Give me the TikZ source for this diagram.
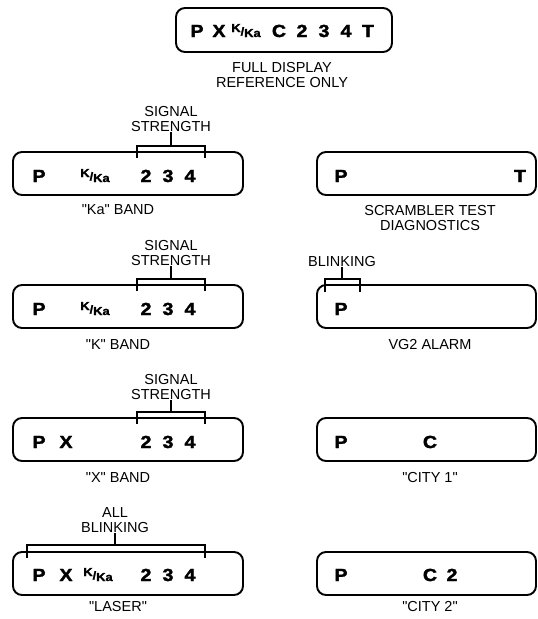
\documentclass[tikz,border=0pt]{standalone}
\usepackage{fontspec}
\setmainfont{Liberation Sans}[Ligatures=TeXOff]
\newfontfamily\disp{Liberation Sans}[FakeStretch=1.12,FakeBold=2]
\newcommand\kka{{\fontsize{11.5}{11.5}\selectfont\raisebox{5pt}{K}\raisebox{1.5pt}{/}Ka}}
\newcommand\qq{\symbol{34}}
\begin{document}
\begin{tikzpicture}[x=1pt,y=-1pt,
  dbox/.style={draw,line width=1.9pt,rounded corners=9pt},
  dch/.style={font=\disp\bfseries\fontsize{17.5}{17.5}\selectfont,inner sep=0pt,anchor=base},
  lbl/.style={font=\fontsize{14.5}{15.5}\selectfont,align=center,inner sep=0pt},
  brk/.style={line width=1.4pt}]
\useasboundingbox (0,0) rectangle (538,619);
% ---------- top box
\draw[dbox] (176,8) rectangle (392,52);
\node[dch] (t1) at (197,37) {P};
\node[dch] (t2) at (219,37) {X};
\node[dch] (t3) at (246,37) {\kka};
\node[dch] (t4) at (279,37) {C};
\node[dch] (t5) at (302,37) {2};
\node[dch] (t6) at (324,37) {3};
\node[dch] (t7) at (346,37) {4};
\node[dch] (t8) at (368,37) {T};
\node[lbl] (tl) at (282,75) {FULL DISPLAY\\REFERENCE ONLY};
% ---------- left column
\foreach \top in {152,285,418,552}{
  \draw[dbox] (13,\top) rectangle (243,\top+43);
}
% row 1
\node[dch] (a1) at (39,182) {P};
\node[dch] (a2) at (95,182) {\kka};
\node[dch] (a3) at (146,182) {2};
\node[dch] (a4) at (168,182) {3};
\node[dch] (a5) at (190,182) {4};
\node[lbl] (al) at (118,210) {\qq Ka\qq{} BAND};
\node[lbl] (as) at (171,119) {SIGNAL\\STRENGTH};
\coordinate (b1l) at (137,158); \coordinate (b1r) at (205,158);
\draw[brk] (b1l) -- ++(0,-12) -| (b1r);
\draw[brk] (171,146) -- (as.south);
% row 2
\node[dch] (k1) at (39,315) {P};
\node[dch] (k2) at (95,315) {\kka};
\node[dch] (k3) at (146,315) {2};
\node[dch] (k4) at (168,315) {3};
\node[dch] (k5) at (190,315) {4};
\node[lbl] (kl) at (118,345) {\qq K\qq{} BAND};
\node[lbl] (ks) at (171,253) {SIGNAL\\STRENGTH};
\coordinate (b2l) at (137,291); \coordinate (b2r) at (205,291);
\draw[brk] (b2l) -- ++(0,-12) -| (b2r);
\draw[brk] (171,279) -- (ks.south);
% row 3
\node[dch] (x1) at (39,448) {P};
\node[dch] (x2) at (66,448) {X};
\node[dch] (x3) at (146,448) {2};
\node[dch] (x4) at (168,448) {3};
\node[dch] (x5) at (190,448) {4};
\node[lbl] (xl) at (118,478) {\qq X\qq{} BAND};
\node[lbl] (xs) at (171,387) {SIGNAL\\STRENGTH};
\coordinate (b3l) at (137,424); \coordinate (b3r) at (205,424);
\draw[brk] (b3l) -- ++(0,-12) -| (b3r);
\draw[brk] (171,412) -- (xs.south);
% row 4
\node[dch] (l1) at (39,581) {P};
\node[dch] (l2) at (66,581) {X};
\node[dch] (l3) at (98,581) {\kka};
\node[dch] (l4) at (146,581) {2};
\node[dch] (l5) at (168,581) {3};
\node[dch] (l6) at (190,581) {4};
\node[lbl] (ll) at (118,607) {\qq LASER\qq};
\node[lbl] (ls) at (115,520) {ALL\\BLINKING};
\coordinate (b4l) at (27,558); \coordinate (b4r) at (205,558);
\draw[brk] (b4l) -- ++(0,-13) -| (b4r);
\draw[brk] (115,545) -- (ls.south);
% ---------- right column
\foreach \top in {152,285,418,552}{
  \draw[dbox] (317,\top) rectangle (536,\top+43);
}
% scrambler
\node[dch] (s1) at (341,182) {P};
\node[dch] (s2) at (520,182) {T};
\node[lbl] (sl) at (430,218) {SCRAMBLER TEST\\DIAGNOSTICS};
% vg2
\node[dch] (v1) at (341,315) {P};
\node[lbl] (vl) at (430,345) {VG2 ALARM};
\node[lbl] (vb) at (342,262) {BLINKING};
\coordinate (b5l) at (325,292); \coordinate (b5r) at (360,292);
\draw[brk] (b5l) -- ++(0,-13) -| (b5r);
\draw[brk] (342,279) -- (vb.south);
% city 1
\node[dch] (c1) at (341,448) {P};
\node[dch] (c2) at (430,448) {C};
\node[lbl] (cl) at (430,478) {\qq CITY 1\qq};
% city 2
\node[dch] (d1) at (341,581) {P};
\node[dch] (d2) at (430,581) {C};
\node[dch] (d3) at (452,581) {2};
\node[lbl] (dl) at (430,607) {\qq CITY 2\qq};
\end{tikzpicture}
\end{document}
